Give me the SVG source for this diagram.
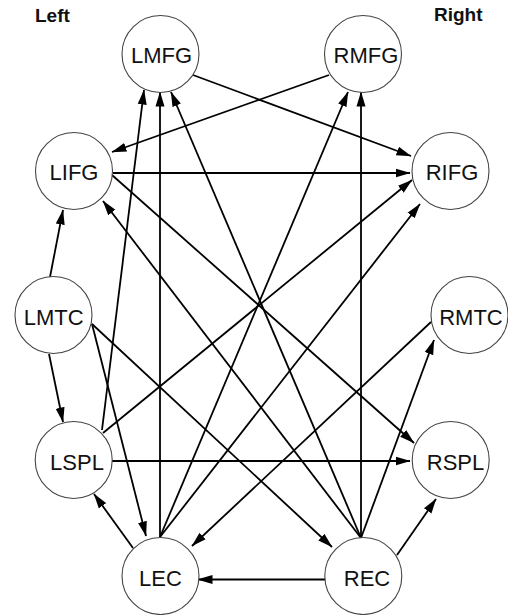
<svg xmlns="http://www.w3.org/2000/svg" width="508" height="615" viewBox="0 0 508 615">
<style>
.node circle{fill:#fff;stroke:#444;stroke-width:1.1}
.node text{font-family:"Liberation Sans",Arial,Helvetica,sans-serif;font-size:22px;text-anchor:middle;fill:#111}
.side{font-family:"Liberation Sans",Arial,Helvetica,sans-serif;font-size:19px;font-weight:bold;fill:#111}
#edges line{stroke:#000;stroke-width:1.8;marker-end:url(#ah)}
</style>
<defs>
<marker id="ah" markerUnits="userSpaceOnUse" markerWidth="15" markerHeight="10" viewBox="0 0 15 10" refX="14.5" refY="5" orient="auto">
<path d="M0,0.5 L15,5 L0,9.5 z" fill="#000"/>
</marker>
</defs>
<rect width="508" height="615" fill="#fff"/>
<text class="side" x="35" y="22">Left</text>
<text class="side" x="434" y="21">Right</text>
<g id="edges">
<line x1="193" y1="75" x2="411" y2="156"/>
<line x1="329" y1="75" x2="112" y2="152"/>
<line x1="113" y1="173" x2="410" y2="173"/>
<line x1="112" y1="175" x2="414" y2="443"/>
<line x1="50" y1="277" x2="63" y2="210"/>
<line x1="49" y1="354" x2="63" y2="422"/>
<line x1="92" y1="324" x2="146" y2="536"/>
<line x1="92" y1="324" x2="332" y2="547"/>
<line x1="102" y1="430" x2="144" y2="90"/>
<line x1="103" y1="433" x2="412" y2="180"/>
<line x1="112" y1="461" x2="410" y2="461"/>
<line x1="133" y1="548" x2="94" y2="494"/>
<line x1="160" y1="537" x2="160" y2="92"/>
<line x1="160" y1="537" x2="348" y2="92"/>
<line x1="160" y1="537" x2="420" y2="204"/>
<line x1="431" y1="322" x2="192" y2="546"/>
<line x1="326" y1="579.5" x2="198" y2="579.5"/>
<line x1="361" y1="538" x2="103" y2="201"/>
<line x1="361" y1="538" x2="171" y2="92"/>
<line x1="361" y1="538" x2="361" y2="92"/>
<line x1="361" y1="538" x2="434" y2="340"/>
<line x1="397" y1="555" x2="436" y2="499"/>
</g>
<g id="LMFG" class="node"><circle cx="160.5" cy="54" r="38.5"/><text x="161.5" y="62.5">LMFG</text></g>
<g id="RMFG" class="node"><circle cx="363" cy="54" r="38.5"/><text x="366" y="62.5">RMFG</text></g>
<g id="LIFG" class="node"><circle cx="74" cy="171" r="38.5"/><text x="74" y="180">LIFG</text></g>
<g id="RIFG" class="node"><circle cx="450.5" cy="171" r="38.5"/><text x="452" y="180">RIFG</text></g>
<g id="LMTC" class="node"><circle cx="53.5" cy="315" r="38.5"/><text x="53.7" y="325">LMTC</text></g>
<g id="RMTC" class="node"><circle cx="469.5" cy="315" r="38.5"/><text x="471" y="325">RMTC</text></g>
<g id="LSPL" class="node"><circle cx="73.7" cy="460" r="38.5"/><text x="77" y="470">LSPL</text></g>
<g id="RSPL" class="node"><circle cx="450.7" cy="460" r="38.5"/><text x="455.5" y="470">RSPL</text></g>
<g id="LEC" class="node"><circle cx="160.5" cy="576" r="38.5"/><text x="160.5" y="586">LEC</text></g>
<g id="REC" class="node"><circle cx="363.3" cy="576" r="38.5"/><text x="367" y="586">REC</text></g>
</svg>
